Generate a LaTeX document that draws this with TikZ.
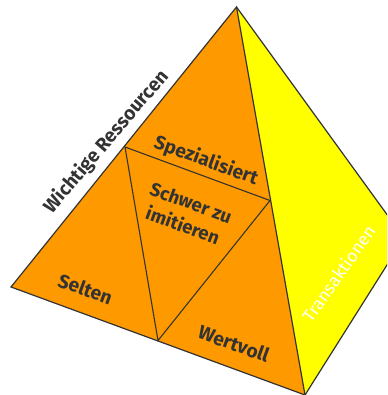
\documentclass[tikz,border=0pt]{standalone}
\usepackage{fontspec}
\setmainfont{Fira Sans}
\definecolor{facefront}{HTML}{FF9900}
\definecolor{faceside}{HTML}{FFFF00}
\definecolor{ink}{HTML}{333333}
\tikzset{
  edge/.style={draw=ink,line width=1.2pt,line join=miter},
  inner/.style={draw=ink,line width=1.1pt},
  lab/.style={text=ink,font=\fontsize{19.2}{23}\selectfont\bfseries,inner sep=0pt,align=center}
}
\begin{document}
\begin{tikzpicture}[x=1pt,y=-1pt]
\useasboundingbox (0,0) rectangle (387,395);
\coordinate (apex) at (236.5,7);
\coordinate (left) at (11,287);
\coordinate (bottom) at (305,395);
\coordinate (right) at (404,238);
\coordinate (hl) at (125,147);
\coordinate (hr) at (270,200.5);
\coordinate (hb) at (158,340.5);
\begin{scope}
\clip (0,0) rectangle (387,395);
\fill[faceside] (apex) -- (right) -- (bottom) -- cycle;
\fill[facefront] (apex) -- (left) -- (bottom) -- cycle;
\draw[edge] (apex) -- (right) -- (bottom);
\draw[edge] (apex) -- (left) -- (bottom) -- cycle;
\draw[inner] (hl) -- (hr) -- (hb) -- cycle;
\end{scope}
\node[lab,rotate=49.5] (res) at (106.5,142) {Wichtige Ressourcen};
\node[lab,rotate=-20] (spez) at (206,161) {Spezialisiert};
\node[lab,rotate=-20,font=\fontsize{18.6}{24}\selectfont\bfseries] (schwer) at (187,214) {Schwer zu\\imitieren};
\node[lab,rotate=-20] (selten) at (85.5,289) {Selten};
\node[lab,rotate=-20] (wert) at (234,343.5) {Wertvoll};
\node[lab,rotate=55,text=white,font=\fontsize{17.6}{21}\selectfont] (trans) at (338.5,273.5) {Transaktionen};
\end{tikzpicture}
\end{document}
